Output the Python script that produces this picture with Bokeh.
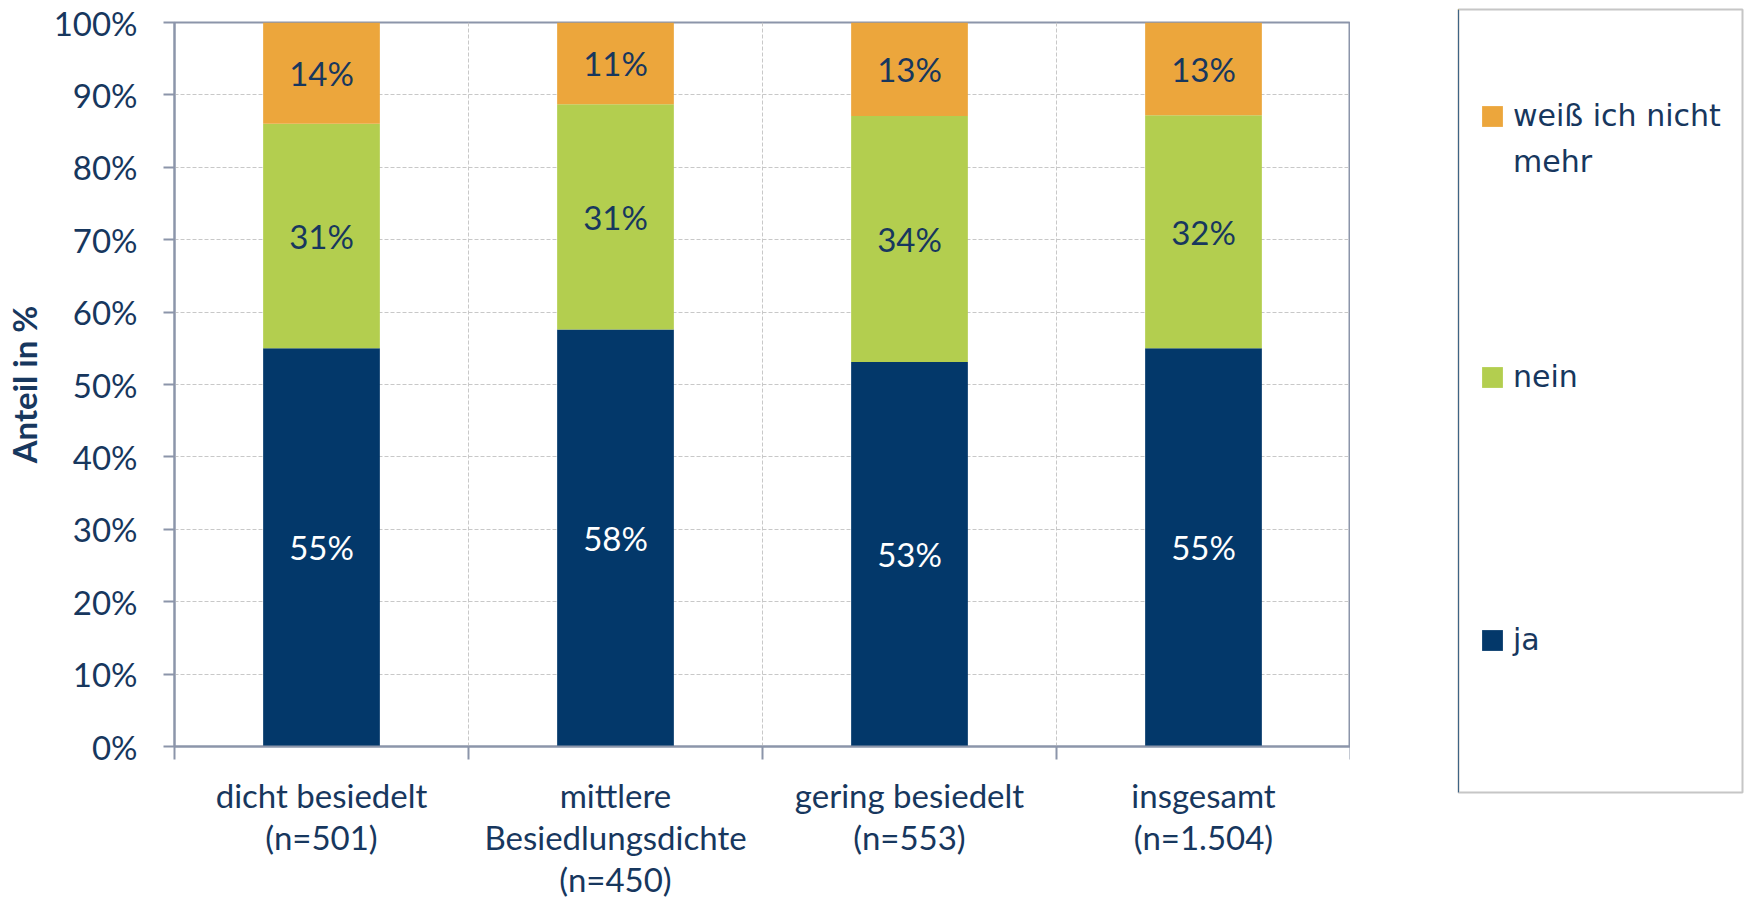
from bokeh.plotting import figure
from bokeh.layouts import row
from bokeh.models import (FixedTicker, PrintfTickFormatter, Range1d, Legend, LegendItem,
                          ColumnDataSource, LabelSet)
from bokeh.core.properties import value
from bokeh.embed import file_html
from bokeh.resources import INLINE

# ---- data ----
categories = ["dicht besiedelt\n(n=501)", "mittlere\nBesiedlungsdichte\n(n=450)",
              "gering besiedelt\n(n=553)", "insgesamt\n(n=1.504)"]
ja = [55.0, 57.6, 53.1, 55.0]
nein = [31.0, 31.1, 34.0, 32.2]
weiss = [14.0, 11.3, 12.9, 12.8]
series_names = ["ja", "nein", "weiß ich nicht", "mehr"]
y_ticks = [0, 10, 20, 30, 40, 50, 60, 70, 80, 90, 100]

TXT = "#17375E"
AX = "#8C95AA"
colors = ["#03386A", "#B3CE4F", "#ECA63C"]
FONT = "Lato"
FS = "33px"

xpos = [i + 0.5 for i in range(len(categories))]
bounds = [float(i) for i in range(len(categories) + 1)]

src = ColumnDataSource(dict(x=xpos, ja=ja, nein=nein, weiss=weiss))

p = figure(frame_width=1176, frame_height=724, x_range=Range1d(0, len(categories)), y_range=Range1d(0, 100),
           output_backend="svg", toolbar_location=None, align="start", frame_align=False,
           min_border_left=174, min_border_right=0, min_border_top=22, min_border_bottom=154)
p.background_fill_color = "white"
p.border_fill_color = "white"
p.outline_line_color = AX
p.outline_line_width = 2

rs = p.vbar_stack(["ja", "nein", "weiss"], x="x", width=0.397, source=src,
                  color=colors, line_color=None)

# labels
lab_x, lab_y, lab_t, lab_c = [], [], [], []
for i in range(len(categories)):
    base = 0.0
    for vals, col in ((ja, "white"), (nein, TXT), (weiss, TXT)):
        v = vals[i]
        lab_x.append(xpos[i]); lab_y.append(base + v / 2); lab_t.append(f"{round(v)}%"); lab_c.append(col)
        base += v
lsrc = ColumnDataSource(dict(x=lab_x, y=lab_y, t=lab_t, c=lab_c))
p.add_layout(LabelSet(x="x", y="y", text="t", source=lsrc, text_color="c", text_align="center",
                      text_baseline="middle", text_font=value(FONT), text_font_size=value(FS)))

# x axis
xa = p.xaxis[0]
xa.ticker = FixedTicker(ticks=xpos, minor_ticks=bounds)
xa.major_label_overrides = {x: c for x, c in zip(xpos, categories)}
xa.major_tick_out = 0
xa.major_tick_in = 0
xa.minor_tick_out = 13
xa.minor_tick_in = 0
xa.minor_tick_line_color = AX
xa.minor_tick_line_width = 2
xa.axis_line_color = AX
xa.axis_line_width = 2
xa.major_label_text_font = FONT
xa.major_label_text_font_size = FS
xa.major_label_text_color = TXT
xa.major_label_text_line_height = 1.06
xa.major_label_standoff = 15

# y axis
ya = p.yaxis[0]
ya.ticker = FixedTicker(ticks=y_ticks, minor_ticks=[])
ya.formatter = PrintfTickFormatter(format="%d%%")
ya.major_tick_out = 11
ya.major_tick_in = 0
ya.major_tick_line_color = AX
ya.major_tick_line_width = 2
ya.axis_line_color = AX
ya.axis_line_width = 2
ya.major_label_text_font = FONT
ya.major_label_text_font_size = FS
ya.major_label_text_color = TXT
ya.major_label_standoff = 26
ya.axis_label = "Anteil in %"
ya.axis_label_text_font = FONT
ya.axis_label_text_font_style = "bold"
ya.axis_label_text_font_size = "33px"
ya.axis_label_text_color = TXT
ya.axis_label_standoff = 7

# grids
p.xgrid.grid_line_color = None
p.xgrid.minor_grid_line_color = "#C8C8C8"
p.xgrid.minor_grid_line_dash = "4 2"
p.ygrid.grid_line_color = "#C8C8C8"
p.ygrid.grid_line_dash = "4 2"

# legend panel (separate figure whose frame is the legend box)
lf = figure(frame_width=284, frame_height=783, x_range=Range1d(10, 11), y_range=Range1d(10, 11),
            output_backend="svg", toolbar_location=None, x_axis_location=None, y_axis_location=None,
            align="start", frame_align=False,
            min_border_left=108, min_border_right=2, min_border_top=9, min_border_bottom=108)
lf.grid.visible = False
lf.outline_line_color = "#C6C6C6"
lf.outline_line_width = 2
lf.background_fill_color = "white"
lf.border_fill_color = "white"
# same data, drawn outside the visible range: only their legend swatches show
leg_r = list(lf.vbar_stack(["ja", "nein", "weiss"], x="x", width=0.397, source=src,
                           color=colors, line_color=None))
leg_r.append(lf.vbar(x="x", top="weiss", width=0.397, source=src, fill_alpha=0, line_alpha=0))

# (series index, distance of legend bottom from box bottom)
leg_pos = [(2, 659), (3, 613), (1, 398), (0, 135)]
for k, yb in leg_pos:
    leg = Legend(items=[LegendItem(label=series_names[k], renderers=[leg_r[k]])],
                 location=(21, yb), margin=0, padding=0,
                 glyph_width=26, glyph_height=26, label_standoff=8,
                 label_text_font="DejaVu Sans", label_text_font_size="30px", label_text_color=TXT,
                 border_line_color=None, background_fill_alpha=0)
    lf.add_layout(leg, "center")

layout = row(p, lf, spacing=0)
open("out.html", "w").write(file_html(layout, INLINE))
